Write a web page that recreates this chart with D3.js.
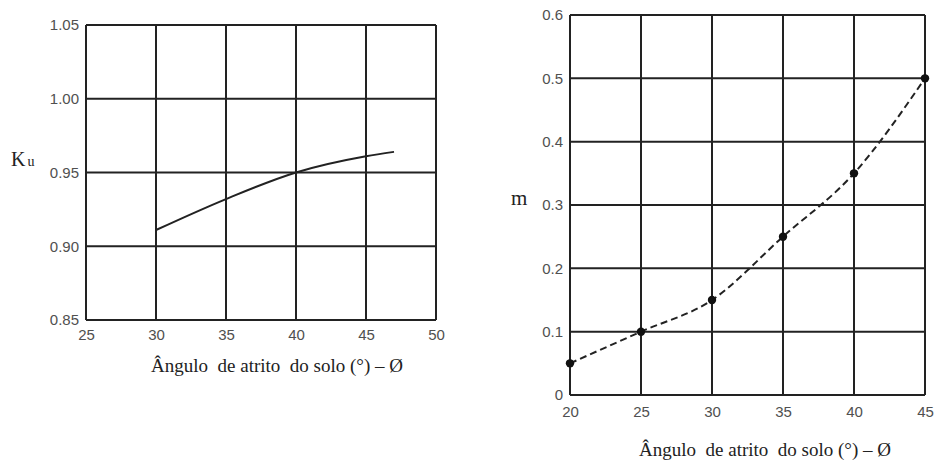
<!DOCTYPE html>
<html>
<head>
<meta charset="utf-8">
<script src="https://cdn.jsdelivr.net/npm/d3@7"></script>
<style>
  html, body { margin: 0; padding: 0; background: #fff; }
  svg { display: block; }
  .title { font-family: "Liberation Serif", "Times New Roman", serif; fill: #222; white-space: pre; }
</style>
</head>
<body>
<svg id="chart" width="934" height="463"></svg>
<script>
// Left panel: Ku versus soil friction angle
const kuAngles = [30, 35, 40, 45, 47];
const kuValues = [0.911, 0.932, 0.950, 0.961, 0.964];
const kuXTicks = [25, 30, 35, 40, 45, 50];
const kuYTicks = [0.85, 0.90, 0.95, 1.00, 1.05];

// Right panel: m versus soil friction angle
const mAngles = [20, 25, 30, 35, 40, 45];
const mValues = [0.05, 0.10, 0.15, 0.25, 0.35, 0.50];
const mXTicks = [20, 25, 30, 35, 40, 45];
const mYTicks = [0, 0.1, 0.2, 0.3, 0.4, 0.5, 0.6];

const axisTitle = "Ângulo  de atrito  do solo (°) \u2013 Ø";
const gridColor = "#222";

const svg = d3.select("#chart");

function styleTicks(sel) {
  sel.select(".domain").remove();
  sel.selectAll(".tick text")
    .style("font-family", "'Liberation Sans', Arial, sans-serif")
    .style("font-size", "15px")
    .style("fill", "#505050");
}

function panel(cfg) {
  const g = svg.append("g");
  const x = d3.scaleLinear().domain(cfg.xDomain).range([cfg.left, cfg.right]);
  const y = d3.scaleLinear().domain(cfg.yDomain).range([cfg.bottom, cfg.top]);

  // grid lines
  g.append("g").selectAll("line").data(cfg.xTicks).join("line")
    .attr("x1", d => x(d)).attr("x2", d => x(d))
    .attr("y1", cfg.top).attr("y2", cfg.bottom)
    .attr("stroke", gridColor).attr("stroke-width", 2);
  g.append("g").selectAll("line").data(cfg.yTicks).join("line")
    .attr("x1", cfg.left).attr("x2", cfg.right)
    .attr("y1", d => y(d)).attr("y2", d => y(d))
    .attr("stroke", gridColor).attr("stroke-width", 2);

  // axes (labels only, the frame comes from the grid)
  g.append("g").attr("transform", `translate(0,${cfg.bottom})`)
    .call(d3.axisBottom(x).tickValues(cfg.xTicks).tickSize(0).tickPadding(cfg.xPad).tickFormat(d3.format("d")))
    .call(styleTicks);
  g.append("g").attr("transform", `translate(${cfg.left},0)`)
    .call(d3.axisLeft(y).tickValues(cfg.yTicks).tickSize(0).tickPadding(cfg.yPad).tickFormat(cfg.yFormat))
    .call(styleTicks);

  return { g, x, y };
}

// ---- Left chart ----
const L = panel({
  xDomain: [25, 50], yDomain: [0.85, 1.05],
  left: 86, right: 436, top: 25, bottom: 320,
  xTicks: kuXTicks, yTicks: kuYTicks,
  xPad: 9, yPad: 7, yFormat: d3.format(".2f")
});
L.g.append("path")
  .datum(kuAngles.map((a, i) => [a, kuValues[i]]))
  .attr("fill", "none").attr("stroke", "#222").attr("stroke-width", 2)
  .attr("d", d3.line().x(d => L.x(d[0])).y(d => L.y(d[1])).curve(d3.curveMonotoneX));

svg.append("text").attr("class", "title")
  .attr("x", 277).attr("y", 372).attr("text-anchor", "middle")
  .attr("font-size", 19).text(axisTitle);

const ku = svg.append("text").attr("class", "title").attr("x", 11).attr("y", 166);
ku.append("tspan").attr("font-size", 20).text("K");
ku.append("tspan").attr("font-size", 14).attr("dx", 2).text("u");

// ---- Right chart ----
const R = panel({
  xDomain: [20, 45], yDomain: [0, 0.6],
  left: 570, right: 925, top: 15, bottom: 395,
  xTicks: mXTicks, yTicks: mYTicks,
  xPad: 11, yPad: 7, yFormat: d => d === 0 ? "0" : d3.format(".1f")(d)
});
const mPts = mAngles.map((a, i) => [a, mValues[i]]);
R.g.append("path")
  .datum(mPts)
  .attr("fill", "none").attr("stroke", "#222").attr("stroke-width", 2)
  .attr("stroke-dasharray", "7,4")
  .attr("d", d3.line().x(d => R.x(d[0])).y(d => R.y(d[1])).curve(d3.curveMonotoneX));
R.g.selectAll("circle").data(mPts).join("circle")
  .attr("cx", d => R.x(d[0])).attr("cy", d => R.y(d[1]))
  .attr("r", 4.2).attr("fill", "#111");

svg.append("text").attr("class", "title")
  .attr("x", 765).attr("y", 456).attr("text-anchor", "middle")
  .attr("font-size", 19).text(axisTitle);

svg.append("text").attr("class", "title")
  .attr("x", 511).attr("y", 205).attr("font-size", 21).text("m");
</script>
</body>
</html>
